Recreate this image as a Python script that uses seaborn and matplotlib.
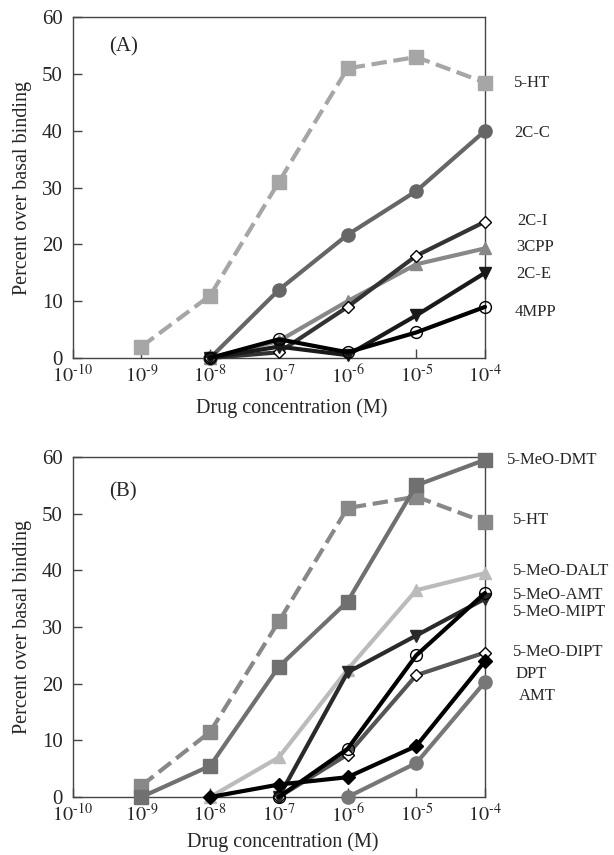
import numpy as np
import pandas as pd
import seaborn as sns
import matplotlib.pyplot as plt

# concentrations (M)
conc_a = [1e-9, 1e-8, 1e-7, 1e-6, 1e-5, 1e-4]
conc_b = [1e-8, 1e-7, 1e-6, 1e-5, 1e-4]
conc_c = [1e-7, 1e-6, 1e-5, 1e-4]
conc_d = [1e-6, 1e-5, 1e-4]

# panel A values (% over basal binding)
ht5_a = [2, 11, 31, 51, 53, 48.5]
c2c = [0, 12, 21.7, 29.4, 40]
c2i = [0, 1, 9, 18, 24]
cpp3 = [0, 3, 10, 16.5, 19.3]
c2e = [0, 2, 0.5, 7.5, 15]
mpp4 = [0, 3.3, 1, 4.5, 9]

# panel B values
meo_dmt = [0, 5.5, 23, 34.5, 55, 59.5]
ht5_b = [2, 11.5, 31, 51, 53, 48.5]
meo_dalt = [0, 7, 22.5, 36.5, 39.5]
meo_amt = [0, 8.5, 25, 36]
meo_mipt = [0, 22, 28.5, 35]
meo_dipt = [0, 7.5, 21.5, 25.5]
dpt = [0, 2.2, 3.5, 9, 24]
amt = [0, 6, 20.3]

labels_a = ["5-HT", "2C-C", "2C-I", "3CPP", "2C-E", "4MPP"]
label_y_a = [48.4, 39.6, 24.1, 19.5, 14.8, 8.1]
labels_b = ["5-MeO-DMT", "5-HT", "5-MeO-DALT", "5-MeO-AMT", "5-MeO-MIPT",
            "5-MeO-DIPT", "DPT", "AMT"]
label_y_b = [59.5, 48.9, 39.9, 35.6, 32.6, 25.6, 21.7, 17.8]

sns.set_style("white")
plt.rcParams["font.family"] = ["Liberation Serif", "DejaVu Serif"]
plt.rcParams["mathtext.fontset"] = "stix"


def draw(ax, x, y, color, marker, ms, dashed=False, face=None, lw=3):
    sns.lineplot(x=x, y=y, ax=ax, color=color, marker=marker, markersize=ms,
                 linewidth=lw, linestyle="--" if dashed else "-",
                 dashes=(3, 2.2) if dashed else (None, None),
                 markerfacecolor=face if face else color,
                 markeredgecolor="black" if face == "white" else color,
                 markeredgewidth=1.0, clip_on=False, zorder=3)


def style_axes(ax, tag, tag_y, labels, label_y, label_x, xlab_pos):
    ax.set_xscale("log")
    ax.set_xlim(1e-10, 1e-4)
    ax.set_ylim(0, 60)
    ax.set_yticks(range(0, 61, 10))
    ticks = [1e-10, 1e-9, 1e-8, 1e-7, 1e-6, 1e-5, 1e-4]
    ax.set_xticks(ticks)
    ax.set_xticklabels([f"$10^{{\\text{{-}}{abs(int(np.log10(t)))}}}$" for t in ticks])
    ax.minorticks_off()
    ax.tick_params(direction="in", length=6.5, width=1.0, color="#444444",
                   bottom=True, left=True, top=False, right=False)
    ax.tick_params(axis="y", labelsize=15, pad=7)
    ax.tick_params(axis="x", labelsize=14.5, pad=5)
    for s in ax.spines.values():
        s.set_color("#444444")
        s.set_linewidth(1.0)
    ax.set_xlabel("Drug concentration (M)", fontsize=14.5, va="top")
    ax.xaxis.set_label_coords(*xlab_pos)
    ax.set_ylabel("Percent over basal binding", fontsize=14.5, labelpad=7)
    ax.text(0.088, tag_y, tag, transform=ax.transAxes, fontsize=15,
            va="center", ha="left")
    for lab, yy, xx in zip(labels, label_y, label_x):
        ax.text(xx, yy, lab, fontsize=12, va="center", clip_on=False,
                transform=ax.get_yaxis_transform())


fig = plt.figure(figsize=(6.14, 8.55), dpi=100)
ax_a = fig.add_axes([0.1184, 0.5813, 0.6715, 0.3985])
ax_b = fig.add_axes([0.1184, 0.0678, 0.6715, 0.3977])

# panel A
draw(ax_a, conc_a, ht5_a, "#a6a6a6", "s", 9.5, dashed=True)
draw(ax_a, conc_b, c2c, "#666666", "o", 9.5)
draw(ax_a, conc_b, cpp3, "#888888", "^", 8.5)
draw(ax_a, conc_b, c2i, "#333333", "D", 6, face="white")
draw(ax_a, conc_b, c2e, "#1a1a1a", "v", 8.5)
draw(ax_a, conc_b, mpp4, "#000000", "o", 8.5, face="none")
style_axes(ax_a, "(A)", 0.913, labels_a, label_y_a,
           [1.070, 1.070, 1.078, 1.075, 1.075, 1.073], (0.532, -0.118))

# panel B
draw(ax_b, conc_a, ht5_b, "#888888", "s", 9.5, dashed=True)
draw(ax_b, conc_a, meo_dmt, "#707070", "s", 9.5)
draw(ax_b, conc_b, meo_dalt, "#bbbbbb", "^", 8.5)
draw(ax_b, conc_c, meo_dipt, "#555555", "D", 6, face="white")
draw(ax_b, conc_d, amt, "#777777", "o", 9.5)
draw(ax_b, conc_c, meo_mipt, "#2a2a2a", "v", 8.5)
draw(ax_b, conc_c, meo_amt, "#000000", "o", 8.5, face="none")
draw(ax_b, conc_b, dpt, "#000000", "D", 7)
style_axes(ax_b, "(B)", 0.897, labels_b, label_y_b,
           [1.053, 1.068, 1.068, 1.068, 1.068, 1.068, 1.075, 1.082],
           (0.510, -0.105))

fig.savefig("out.png", dpi=100)
